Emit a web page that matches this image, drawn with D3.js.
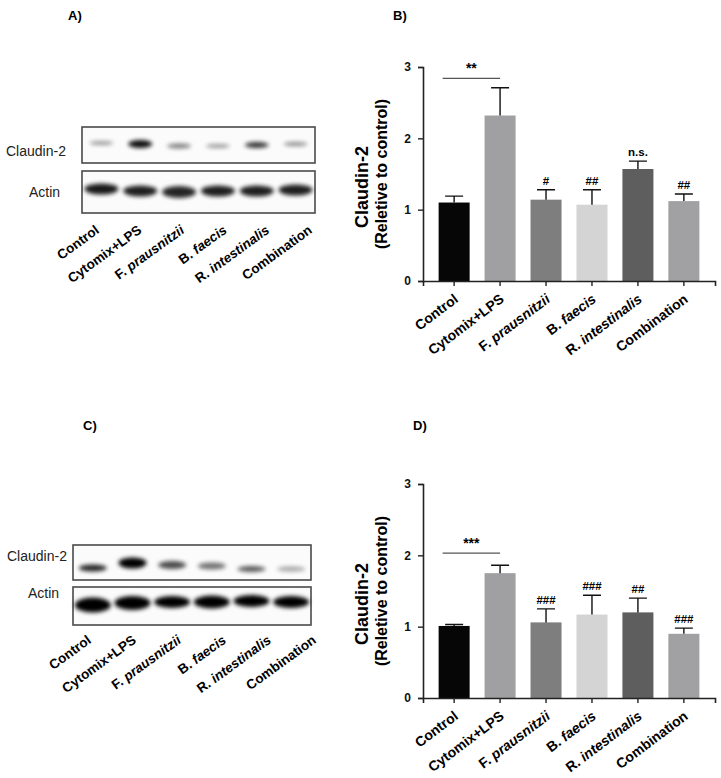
<!DOCTYPE html>
<html lang="en">
<head>
    <meta charset="UTF-8">
    <title>claudin-2 figure</title>
    <script src="https://cdn.jsdelivr.net/npm/d3@7"></script>
    <style>
        body { margin: 0; background: #fff; }
        svg text { font-family: "Liberation Sans", Arial, sans-serif; }
    </style>
</head>
<body>
<svg id="fig" width="721" height="778"></svg>
<script>
    // groups (same in every panel)
    let groups = ["Control", "Cytomix+LPS", "F. prausnitzii", "B. faecis", "R. intestinalis", "Combination"]
    let italicPart = ["", "", "F. prausnitzii", "B. faecis", "R. intestinalis", ""]

    // panel B values (mean, mean + sd)
    let meanB = [1.10, 2.32, 1.14, 1.07, 1.57, 1.12]
    let errB = [1.19, 2.71, 1.28, 1.28, 1.68, 1.22]
    let markB = ["", "", "#", "##", "n.s.", "##"]

    // panel D values
    let meanD = [1.01, 1.75, 1.06, 1.17, 1.20, 0.90]
    let errD = [1.03, 1.86, 1.25, 1.44, 1.40, 0.98]
    let markD = ["", "", "###", "###", "##", "###"]

    let yTicks = [0, 1, 2, 3]
    let barColors = ["#060606", "#a0a0a3", "#7e7e7e", "#d4d4d4", "#5e5e5e", "#a1a1a4"]

    // western blot band darkness per lane
    let claudinA = [0.4, 0.95, 0.5, 0.4, 0.8, 0.45]
    let actinA = [0.9, 0.88, 0.85, 0.88, 0.88, 0.88]
    let claudinC = [0.85, 1, 0.7, 0.55, 0.65, 0.35]
    let actinC = [1, 1, 1, 1, 1, 1]

    let svg = d3.select("#fig")

    // blur for blot bands
    svg.append("defs").append("filter")
        .attr("id", "blur")
        .attr("x", "-30%").attr("y", "-80%").attr("width", "160%").attr("height", "260%")
        .append("feGaussianBlur").attr("stdDeviation", 2)

    function panelLetter(txt, x, y) {
        svg.append("text").attr("x", x).attr("y", y)
            .attr("font-size", 13).attr("font-weight", "bold").text(txt)
    }

    function groupLabel(g, d, i) {
        let t = g.append("text")
        if (italicPart[i]) {
            let parts = d.split(" ")
            t.append("tspan").text(parts[0] + " ")
            t.append("tspan").attr("font-style", "italic").text(parts[1])
        } else {
            t.text(d)
        }
        return t
    }

    function blot(p) {
        let lane = d3.scaleBand().domain(groups).range([p.x0, p.x1])
        let boxes = [
            {y: p.cy0, h: p.ch, name: "Claudin-2", vals: p.claudin, bandY: p.cBand, bh: p.cbh, bw: p.cbw, lx: p.clx, ly: p.cly},
            {y: p.ay0, h: p.ah, name: "Actin", vals: p.actin, bandY: p.aBand, bh: p.abh, bw: p.abw, lx: p.alx, ly: p.aly}
        ]
        boxes.forEach(function (b) {
            svg.append("rect")
                .attr("x", p.x0).attr("y", b.y)
                .attr("width", p.x1 - p.x0).attr("height", b.h)
                .attr("fill", "#fbfbfb").attr("stroke", "#4a4a4a").attr("stroke-width", 1.6)
            svg.append("g").selectAll("ellipse")
                .data(b.vals)
                .join("ellipse")
                .attr("cx", (d, i) => lane(groups[i]) + lane.bandwidth() / 2)
                .attr("cy", (d, i) => b.bandY[i])
                .attr("rx", b.bw / 2)
                .attr("ry", (d, i) => b.bh[i] / 2)
                .attr("fill", "#000")
                .attr("opacity", d => d)
                .attr("filter", "url(#blur)")
            svg.append("text").attr("x", b.lx).attr("y", b.ly)
                .attr("font-size", 14).attr("fill", "#222").text(b.name)
        })
        let lab = d3.scalePoint().domain(groups).range([p.lab0, p.lab1])
        let g = svg.append("g")
        groups.forEach(function (d, i) {
            let t = groupLabel(g, d, i)
            t.attr("transform", "translate(" + lab(d) + "," + p.labY + ") rotate(-36)")
                .attr("text-anchor", "end")
                .attr("font-size", 13.5).attr("font-weight", "bold")
        })
    }

    function bars(p) {
        let x = d3.scaleBand().domain(groups).range([423, 715]).paddingInner(0.325).paddingOuter(0.34)
        let y = d3.scaleLinear().domain([0, 3]).range([p.yb, p.yt])
        let g = svg.append("g")

        g.selectAll(".bar")
            .data(p.mean)
            .join("rect")
            .attr("x", (d, i) => x(groups[i]))
            .attr("y", d => y(d))
            .attr("width", x.bandwidth())
            .attr("height", d => y(0) - y(d))
            .attr("fill", (d, i) => barColors[i])

        // error bars (upper only)
        g.selectAll(".err")
            .data(p.err)
            .join("path")
            .attr("d", (d, i) => {
                let cx = x(groups[i]) + x.bandwidth() / 2
                return "M" + cx + "," + y(p.mean[i]) + "V" + y(d) + "M" + (cx - 9) + "," + y(d) + "H" + (cx + 9)
            })
            .attr("stroke", "#111").attr("stroke-width", 1.4).attr("fill", "none")

        g.selectAll(".mark")
            .data(p.mark)
            .join("text")
            .attr("x", (d, i) => x(groups[i]) + x.bandwidth() / 2)
            .attr("y", (d, i) => y(p.err[i]) - 5)
            .attr("text-anchor", "middle")
            .attr("font-size", 11.5).attr("font-weight", "bold")
            .text(d => d)

        // control vs cytomix line
        let sx0 = x(groups[0]) + 4, sx1 = x(groups[1]) + x.bandwidth() / 2
        g.append("line")
            .attr("x1", sx0).attr("x2", sx1)
            .attr("y1", y(p.sigY)).attr("y2", y(p.sigY))
            .attr("stroke", "#555").attr("stroke-width", 1.2)
        g.append("text")
            .attr("x", (sx0 + sx1) / 2).attr("y", y(p.sigY) - 5)
            .attr("text-anchor", "middle").attr("font-size", 14).attr("font-weight", "bold")
            .text(p.sig)

        // axes
        let yAxis = d3.axisLeft(y).tickValues(yTicks).tickSize(5).tickPadding(7).tickFormat(d3.format("d"))
        let ya = g.append("g").attr("transform", "translate(423,0)").call(yAxis)
        ya.selectAll("text").attr("font-size", 12).attr("font-weight", "bold").attr("fill", "#111")
        let xAxis = d3.axisBottom(x).tickSize(5).tickFormat("")
        let xa = g.append("g").attr("transform", "translate(0," + y(0) + ")").call(xAxis)
        ;[ya, xa].forEach(function (a) {
            a.select(".domain").attr("stroke", "#222").attr("stroke-width", 1.6)
            a.selectAll(".tick line").attr("stroke", "#222").attr("stroke-width", 1.4)
        })

        groups.forEach(function (d, i) {
            let t = groupLabel(g, d, i)
            let cx = x(d) + x.bandwidth() / 2
            t.attr("transform", "translate(" + (cx + 5) + "," + (y(0) + 20) + ") rotate(-37)")
                .attr("text-anchor", "end")
                .attr("font-size", 14).attr("font-weight", "bold")
        })

        // y title
        let ty = (p.yb + p.yt) / 2
        g.append("text")
            .attr("transform", "translate(368," + (ty + 13) + ") rotate(-90)")
            .attr("text-anchor", "middle").attr("font-size", 18).attr("font-weight", "bold")
            .text("Claudin-2")
        g.append("text")
            .attr("transform", "translate(387," + ty + ") rotate(-90)")
            .attr("text-anchor", "middle").attr("font-size", 16).attr("font-weight", "bold")
            .text("(Reletive to control)")
    }

    panelLetter("A)", 68, 20)
    panelLetter("B)", 393, 20)
    panelLetter("C)", 83, 430)
    panelLetter("D)", 413, 430)

    blot({
        x0: 82, x1: 315,
        cy0: 127, ch: 36, ay0: 171, ah: 42,
        claudin: claudinA, actin: actinA,
        cBand: [143, 144, 146, 146, 145, 144], cbh: [4, 8, 5, 4, 6, 4], cbw: 24,
        aBand: [189, 191, 192, 191, 191, 190], abh: [11, 11, 12, 11, 11, 11], abw: 34,
        clx: 6, cly: 156, alx: 29, aly: 197,
        lab0: 100, lab1: 313, labY: 232
    })
    blot({
        x0: 73, x1: 311,
        cy0: 545, ch: 35, ay0: 587, ah: 38,
        claudin: claudinC, actin: actinC,
        cBand: [568, 563, 565, 566, 569, 569], cbh: [7, 11, 8, 7, 6, 5], cbw: 28,
        aBand: [605, 603, 602, 602, 601, 602], abh: [15, 14, 12, 13, 12, 12], abw: 36,
        clx: 7, cly: 561, alx: 28, aly: 598,
        lab0: 92, lab1: 317, labY: 642
    })

    bars({yb: 281, yt: 67, mean: meanB, err: errB, mark: markB, sig: "**", sigY: 2.84})
    bars({yb: 698, yt: 484, mean: meanD, err: errD, mark: markD, sig: "***", sigY: 2.03})
</script>
</body>
</html>
